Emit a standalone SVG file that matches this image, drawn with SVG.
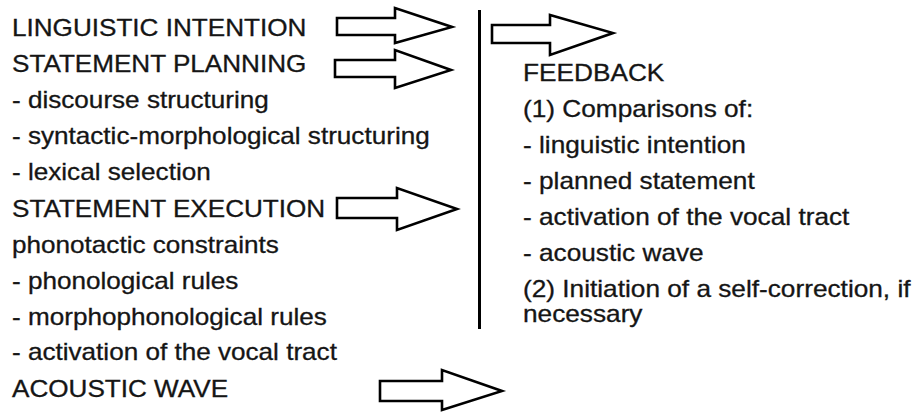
<svg xmlns="http://www.w3.org/2000/svg" width="918" height="412" viewBox="0 0 918 412">
  <style>
    text { font-family: "Liberation Sans", Arial, sans-serif; font-size: 23px; fill: #151515; stroke: #151515; stroke-width: 0.3; }
    .arrow { fill: #ffffff; stroke: #000000; stroke-width: 2.6; stroke-linejoin: miter; }
    .divider { stroke: #000000; stroke-width: 3; fill: none; }
  </style>
  <rect width="918" height="412" fill="#ffffff"/>

  <g id="production-column" transform="translate(12 0) scale(1.135 1)">
    <g id="linguistic-intention"><text x="0" y="36">LINGUISTIC INTENTION</text></g>
    <g id="statement-planning">
      <text x="0" y="72">STATEMENT PLANNING</text>
      <text x="0" y="108">- discourse structuring</text>
      <text x="0" y="144">- syntactic-morphological structuring</text>
      <text x="0" y="180">- lexical selection</text>
    </g>
    <g id="statement-execution">
      <text x="0" y="217">STATEMENT EXECUTION</text>
      <text x="0" y="253">phonotactic constraints</text>
      <text x="0" y="289">- phonological rules</text>
      <text x="0" y="325">- morphophonological rules</text>
      <text x="0" y="360">- activation of the vocal tract</text>
    </g>
    <g id="acoustic-wave"><text x="0" y="397">ACOUSTIC WAVE</text></g>
  </g>

  <g id="feedback" transform="translate(523 0) scale(1.14 1)">
    <text x="0" y="81">FEEDBACK</text>
    <text x="0" y="117">(1) Comparisons of:</text>
    <text x="0" y="153">- linguistic intention</text>
    <text x="0" y="189">- planned statement</text>
    <text x="0" y="225">- activation of the vocal tract</text>
    <text x="0" y="261">- acoustic wave</text>
    <text x="0" y="297">(2) Initiation of a self-correction, if</text>
    <text x="0" y="322">necessary</text>
  </g>

  <g id="connectors">
    <line class="divider" x1="479.5" y1="10" x2="479.5" y2="329"/>
    <polygon class="arrow" points="337,18 395,18 395,8 452,27 395,43 395,35 337,35"/>
    <polygon class="arrow" points="335,60 395,60 395,50 451,70 395,88 395,77 335,77"/>
    <polygon class="arrow" points="337,198 397,198 397,188 457,209 397,230 397,218 337,218"/>
    <polygon class="arrow" points="380,381 442,381 442,370 502,391 442,410 442,401 380,401"/>
    <polygon class="arrow" points="492,25 550,25 550,15 613,33 550,55 550,43 492,43"/>
  </g>
</svg>
